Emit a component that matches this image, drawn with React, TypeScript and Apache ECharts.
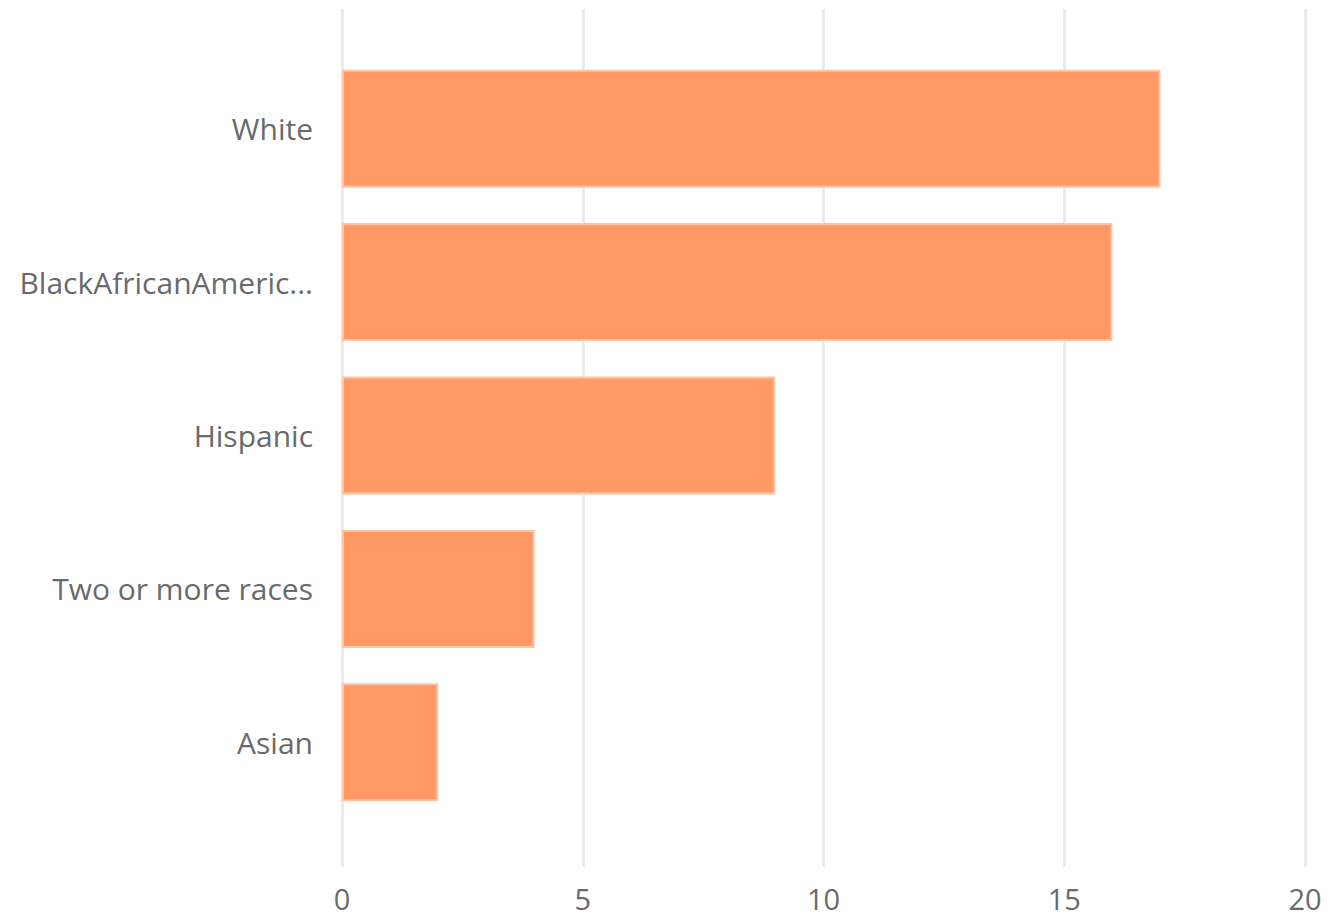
import React, { useEffect, useRef } from "react";
import * as echarts from "echarts";

const categories = ["White", "BlackAfricanAmerican", "Hispanic", "Two or more races", "Asian"];
const values = [17, 16, 9, 4, 2];
const xMin = 0;
const xMax = 20;
const xInterval = 5;

const FONT = "'Open Sans', 'Noto Sans', sans-serif";

export default function App() {
  const ref = useRef<HTMLDivElement>(null);
  useEffect(() => {
    if (!ref.current) return;
    const chart = echarts.init(ref.current, undefined, { renderer: "svg" });
    chart.setOption({
      animation: false,
      backgroundColor: "#ffffff",
      grid: [
        { left: 342, width: 963, top: 9, bottom: 49, containLabel: false },
        { left: 342, width: 963, top: 52, height: 767, containLabel: false },
      ],
      xAxis: [
        {
          gridIndex: 0,
          type: "value",
          min: xMin,
          max: xMax,
          interval: xInterval,
          axisLine: { show: false },
          axisTick: { show: false },
          splitLine: { show: true, lineStyle: { color: "#ebebeb", width: 3 } },
          axisLabel: { color: "#6a6a6a", fontSize: 29, lineHeight: 29, fontFamily: FONT, margin: 17 },
        },
        {
          gridIndex: 1,
          type: "value",
          min: xMin,
          max: xMax,
          interval: xInterval,
          show: false,
          splitLine: { show: false },
        },
      ],
      yAxis: [
        {
          gridIndex: 0,
          type: "value",
          show: false,
          splitLine: { show: false },
        },
        {
          gridIndex: 1,
          type: "category",
          data: categories,
          inverse: true,
          axisLine: { show: false },
          axisTick: { show: false },
          splitLine: { show: false },
          axisLabel: {
            color: "#6a6a6a",
            fontSize: 30,
            fontFamily: FONT,
            margin: 29,
            width: 300,
            overflow: "truncate",
            ellipsis: "...",
          },
        },
      ],
      series: [
        {
          type: "bar",
          xAxisIndex: 1,
          yAxisIndex: 1,
          data: values,
          barWidth: 118,
          itemStyle: {
            color: "#FF9966",
            borderColor: "#FFC3A3",
            borderWidth: 2,
          },
        },
      ],
    });
    return () => chart.dispose();
  }, []);
  return (
    <div
      ref={ref}
      style={{ position: "fixed", left: 0, top: 0, width: 1332, height: 916 }}
    />
  );
}
